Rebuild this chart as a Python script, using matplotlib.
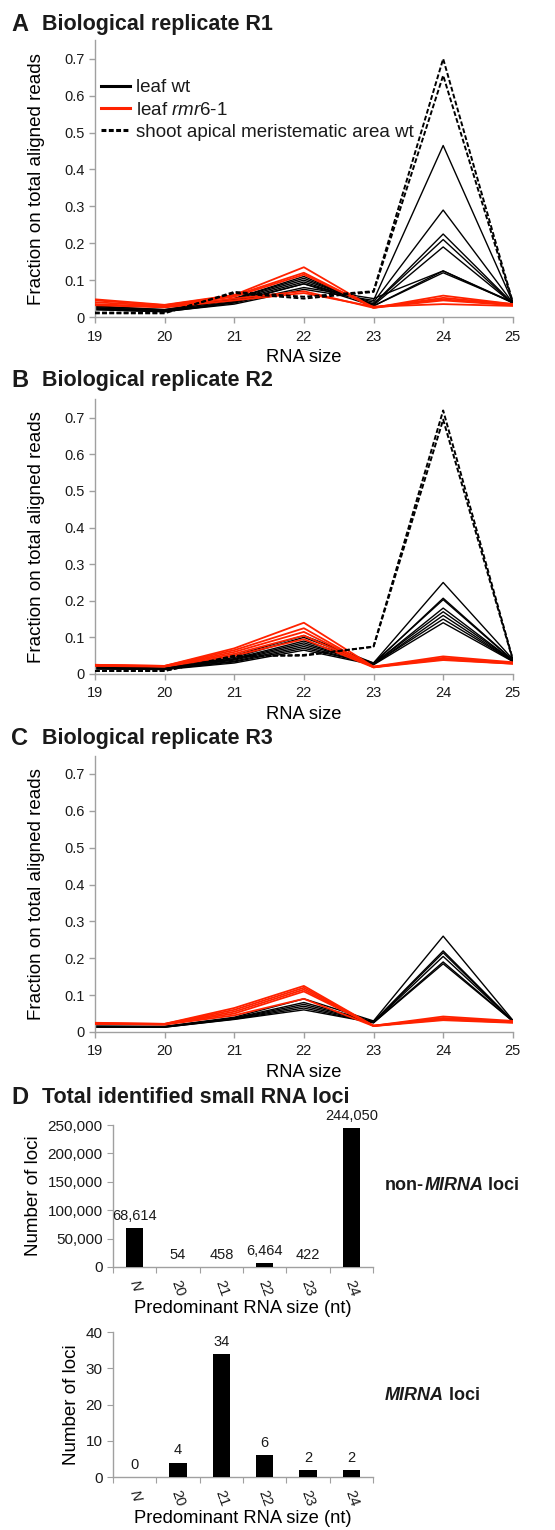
#!/usr/bin/env python3
"""Small RNA size profiles (A-C) and predominant-size loci counts (D)."""
import matplotlib
matplotlib.use("Agg")
import matplotlib.pyplot as plt
import numpy as np
from matplotlib.lines import Line2D

# ---- data ----
SIZES = [19, 20, 21, 22, 23, 24, 25]

# panel A, replicate R1
R1_WT = [
    [0.020, 0.015, 0.035, 0.075, 0.045, 0.465, 0.040],
    [0.022, 0.016, 0.040, 0.090, 0.040, 0.290, 0.038],
    [0.025, 0.018, 0.045, 0.095, 0.035, 0.225, 0.037],
    [0.028, 0.020, 0.048, 0.100, 0.035, 0.210, 0.036],
    [0.030, 0.020, 0.050, 0.105, 0.032, 0.190, 0.036],
    [0.025, 0.017, 0.050, 0.110, 0.030, 0.125, 0.038],
    [0.022, 0.015, 0.042, 0.090, 0.030, 0.120, 0.040],
    [0.020, 0.014, 0.038, 0.080, 0.050, 0.125, 0.040],
]
R1_RMR = [
    [0.048, 0.033, 0.060, 0.135, 0.025, 0.058, 0.035],
    [0.045, 0.032, 0.058, 0.120, 0.025, 0.052, 0.035],
    [0.040, 0.030, 0.055, 0.115, 0.027, 0.048, 0.033],
    [0.035, 0.028, 0.050, 0.070, 0.025, 0.045, 0.032],
    [0.032, 0.026, 0.045, 0.065, 0.028, 0.035, 0.030],
]
R1_SAM = [
    [0.010, 0.010, 0.068, 0.055, 0.070, 0.700, 0.040],
    [0.012, 0.012, 0.065, 0.050, 0.068, 0.655, 0.038],
]

# panel B, replicate R2
R2_WT = [
    [0.020, 0.016, 0.050, 0.105, 0.030, 0.250, 0.040],
    [0.018, 0.015, 0.045, 0.100, 0.028, 0.207, 0.038],
    [0.017, 0.015, 0.042, 0.090, 0.030, 0.203, 0.037],
    [0.016, 0.014, 0.040, 0.085, 0.027, 0.180, 0.036],
    [0.015, 0.014, 0.038, 0.080, 0.028, 0.170, 0.036],
    [0.015, 0.013, 0.035, 0.075, 0.026, 0.160, 0.035],
    [0.014, 0.013, 0.033, 0.070, 0.027, 0.150, 0.035],
    [0.014, 0.012, 0.030, 0.065, 0.025, 0.140, 0.034],
]
R2_RMR = [
    [0.025, 0.022, 0.070, 0.140, 0.020, 0.048, 0.032],
    [0.025, 0.022, 0.065, 0.125, 0.018, 0.044, 0.030],
    [0.024, 0.021, 0.060, 0.115, 0.020, 0.042, 0.030],
    [0.023, 0.021, 0.055, 0.105, 0.019, 0.040, 0.028],
    [0.022, 0.020, 0.050, 0.095, 0.018, 0.038, 0.028],
]
R2_SAM = [
    [0.008, 0.008, 0.050, 0.050, 0.075, 0.720, 0.040],
    [0.008, 0.009, 0.048, 0.052, 0.074, 0.695, 0.038],
]

# panel C, replicate R3
R3_WT = [
    [0.016, 0.015, 0.040, 0.090, 0.030, 0.260, 0.032],
    [0.015, 0.015, 0.038, 0.080, 0.028, 0.220, 0.030],
    [0.015, 0.014, 0.037, 0.075, 0.027, 0.215, 0.030],
    [0.014, 0.014, 0.036, 0.070, 0.026, 0.205, 0.030],
    [0.014, 0.013, 0.035, 0.065, 0.025, 0.190, 0.029],
    [0.013, 0.013, 0.034, 0.060, 0.025, 0.185, 0.029],
]
R3_RMR = [
    [0.025, 0.022, 0.065, 0.125, 0.017, 0.042, 0.030],
    [0.024, 0.022, 0.060, 0.120, 0.017, 0.038, 0.028],
    [0.023, 0.021, 0.055, 0.115, 0.016, 0.036, 0.027],
    [0.022, 0.021, 0.050, 0.110, 0.017, 0.034, 0.026],
    [0.022, 0.020, 0.045, 0.090, 0.016, 0.032, 0.025],
]

# panel D
LOCI_CATS = ["N", "20", "21", "22", "23", "24"]
NON_MIRNA = [68614, 54, 458, 6464, 422, 244050]
MIRNA = [0, 4, 34, 6, 2, 2]

# ---- style ----
INK, SPINE = "#1a1a1a", "#a0a0a0"
RED = "#FF2200"
plt.rcParams.update({
    "font.family": ["Liberation Sans", "DejaVu Sans"],
    "font.size": 10.5, "text.color": INK,
    "xtick.color": SPINE, "ytick.color": SPINE,
    "xtick.labelcolor": INK, "ytick.labelcolor": INK,
    "axes.edgecolor": SPINE, "axes.linewidth": 1.0,
    "axes.spines.top": False, "axes.spines.right": False,
    "mathtext.fontset": "custom", "mathtext.rm": "Liberation Sans",
    "mathtext.it": "Liberation Sans:italic",
})

fig = plt.figure(figsize=(5.55, 15.3), dpi=100)


def panel_title(y, letter, text):
    fig.text(0.020, y, letter, fontsize=17, fontweight="bold", va="center")
    fig.text(0.075, y, text, fontsize=15.5, fontweight="bold", va="center")


def line_panel(rect, wt, rmr, sam=None):
    ax = fig.add_axes(rect)
    for row in wt:
        ax.plot(SIZES, row, color="black", lw=1.0, zorder=2)
    for row in rmr:
        ax.plot(SIZES, row, color=RED, lw=1.3, zorder=3)
    if sam is not None:
        for row in sam:
            ax.plot(SIZES, row, color="black", lw=1.4, ls=(0, (2.5, 1.2)), zorder=4)
    ax.set_xlim(19, 25)
    ax.set_ylim(0, 0.75)
    ax.set_xticks(SIZES)
    ax.set_yticks(np.arange(0, 0.71, 0.1))
    ax.set_yticklabels(["0"] + [f"{v:.1f}" for v in np.arange(0.1, 0.71, 0.1)])
    ax.tick_params(length=4, width=1.0, labelsize=10.5)
    ax.tick_params(axis="x", pad=5)
    ax.set_xlabel("RNA size", fontsize=13.2, labelpad=4)
    ax.set_ylabel("Fraction on total aligned reads", fontsize=13.5, labelpad=14)
    return ax


def bar_panel(rect, vals, ymax, yticks, fmt):
    ax = fig.add_axes(rect)
    x = np.arange(len(LOCI_CATS))
    ax.bar(x, vals, width=0.4, color="black", zorder=3)
    for xi, v in zip(x, vals):
        ax.text(xi, v + ymax * 0.035, fmt(v), ha="center", va="bottom", fontsize=10.5)
    ax.set_xlim(-0.5, len(LOCI_CATS) - 0.5)
    ax.set_ylim(0, ymax)
    ax.set_yticks(yticks)
    ax.set_yticklabels([fmt(t) for t in yticks])
    ax.set_xticks(np.arange(-0.5, len(LOCI_CATS)), minor=False)
    ax.set_xticklabels([])
    ax.set_xticks(x, minor=True)
    ax.set_xticklabels(LOCI_CATS, minor=True, rotation=-70, ha="center", va="top")
    ax.get_xticklabels(minor=True)[0].set_fontstyle("italic")
    ax.tick_params(axis="x", which="minor", length=0, pad=8, labelsize=10.5)
    ax.tick_params(axis="x", which="major", length=4)
    ax.tick_params(axis="y", length=4, labelsize=11)
    ax.set_xlabel("Predominant RNA size (nt)", fontsize=13.2, labelpad=1)
    ax.set_ylabel("Number of loci", fontsize=13.5, labelpad=4)
    return ax


# A
panel_title(0.9837, "A", "Biological replicate R1")
axA = line_panel([0.171, 0.7928, 0.753, 0.1808], R1_WT, R1_RMR, R1_SAM)
handles = [
    Line2D([], [], color="black", lw=2.2),
    Line2D([], [], color=RED, lw=2.2),
    Line2D([], [], color="black", lw=2.2, ls=(0, (1.6, 0.8))),
]
axA.legend(handles, ["leaf wt", r"leaf $\mathit{rmr6}$-$\mathit{1}$",
                     "shoot apical meristematic area wt"],
           loc="upper left", bbox_to_anchor=(0.015, 0.86), frameon=False,
           fontsize=13.5, handlelength=1.55, handletextpad=0.3,
           labelspacing=0.28, borderaxespad=0.0, borderpad=0.0)

# B
panel_title(0.7516, "B", "Biological replicate R2")
line_panel([0.171, 0.5595, 0.753, 0.1794], R2_WT, R2_RMR, R2_SAM)

# C
panel_title(0.5176, "C", "Biological replicate R3")
line_panel([0.171, 0.3255, 0.753, 0.1807], R3_WT, R3_RMR)

# D
panel_title(0.2830, "D", "Total identified small RNA loci")
bar_panel([0.2036, 0.1719, 0.4684, 0.0928], NON_MIRNA, 250000,
          np.arange(0, 250001, 50000), lambda v: f"{int(v):,}")
bar_panel([0.2036, 0.0346, 0.4684, 0.0948], MIRNA, 40,
          np.arange(0, 41, 10), lambda v: f"{int(v)}")

# side labels with italic gene names
fig.canvas.draw()
r = fig.canvas.get_renderer()
inv = fig.transFigure.inverted()


def side_label(y, parts):
    x = 0.694
    for txt, italic in parts:
        t = fig.text(x, y, txt, fontsize=13, fontweight="bold",
                     style="italic" if italic else "normal", va="center")
        x = inv.transform((t.get_window_extent(r).x1, 0))[0]


side_label(1 - 1185 / 1530, [("non-", False), ("MIRNA", True), (" loci", False)])
side_label(1 - 1395 / 1530, [("MIRNA", True), (" loci", False)])

fig.savefig("out.png", dpi=100, facecolor="white")
